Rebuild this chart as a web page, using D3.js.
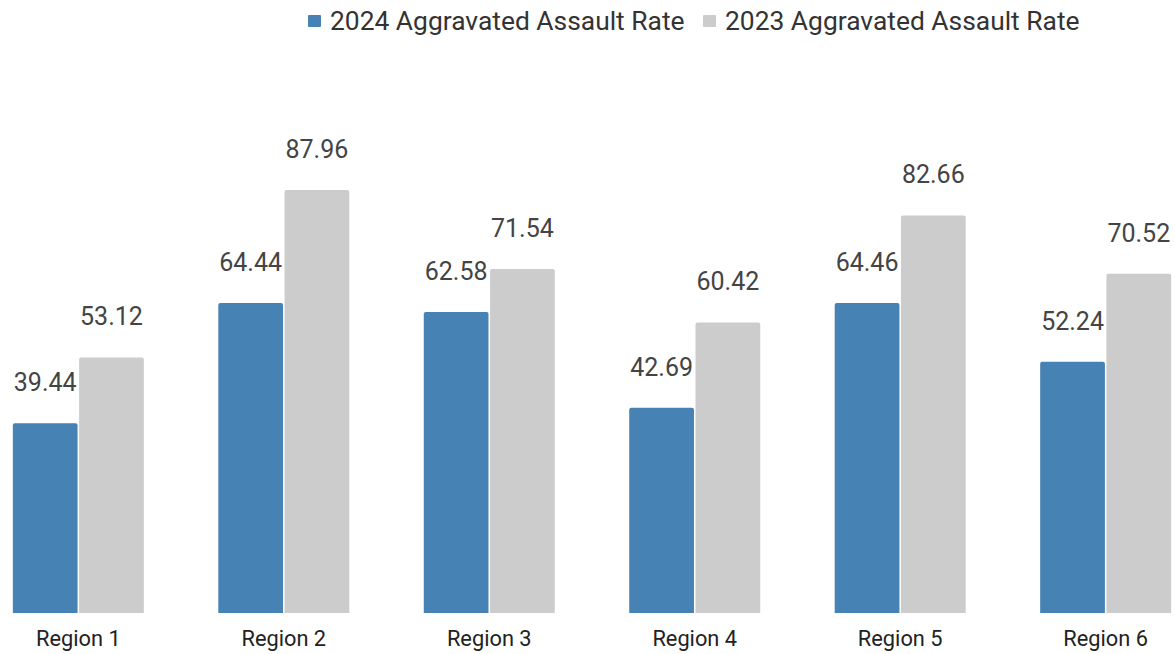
<!DOCTYPE html>
<html lang="en">
  <head>
    <meta charset="UTF-8" />
    <title>Aggravated Assault Rate by Region</title>
    <script src="https://d3js.org/d3.v7.min.js"></script>
    <style>
      body {
        margin: 0;
        background: #fff;
        overflow: hidden;
        font-family: Roboto, sans-serif;
      }
      .value-label {
        font-size: 25px;
        fill: #444;
      }
      .axis-label {
        font-size: 21.8px;
        fill: #222;
      }
      .legend-text {
        font-size: 26.4px;
        fill: #333;
      }
    </style>
  </head>
  <body>
    <svg width="1175" height="654"></svg>

    <script>
      const regions = ['Region 1', 'Region 2', 'Region 3', 'Region 4', 'Region 5', 'Region 6'];
      const seriesNames = ['2024 Aggravated Assault Rate', '2023 Aggravated Assault Rate'];
      const rate2024 = [39.44, 64.44, 62.58, 42.69, 64.46, 52.24];
      const rate2023 = [53.12, 87.96, 71.54, 60.42, 82.66, 70.52];
      const colors = ['#4682b4', '#cccccc'];

      const width = 1175,
        height = 654;
      const baseline = 613;

      const svg = d3.select('svg');

      // the plot runs a bit past the right edge of the window, like the original
      const x0 = d3.scaleBand().domain(regions).range([-24.4, 1208.4]);
      const x1 = d3
        .scaleBand()
        .domain(seriesNames)
        .range([x0.bandwidth() / 2 - 65.5, x0.bandwidth() / 2 + 65.5])
        .paddingInner(0.023);

      const y = d3.scaleLinear().domain([0, 100]).range([baseline, baseline - 481]);

      const rows = regions.map((r, i) => ({
        region: r,
        values: [rate2024[i], rate2023[i]],
      }));

      // bar with slightly rounded top corners
      function barPath(x, yTop, w, h, r) {
        return `M${x},${yTop + h}V${yTop + r}Q${x},${yTop} ${x + r},${yTop}H${x + w - r}Q${x + w},${yTop} ${x + w},${yTop + r}V${yTop + h}Z`;
      }

      const groups = svg
        .selectAll('g.group')
        .data(rows)
        .join('g')
        .attr('class', 'group')
        .attr('transform', (d) => `translate(${x0(d.region)},0)`);

      groups
        .selectAll('path')
        .data((d) => d.values.map((v, j) => ({ key: seriesNames[j], value: v, idx: j })))
        .join('path')
        .attr('d', (d) =>
          barPath(x1(d.key), y(d.value), x1.bandwidth(), baseline - y(d.value), 2),
        )
        .attr('fill', (d) => colors[d.idx]);

      groups
        .selectAll('text.value-label')
        .data((d) => d.values.map((v, j) => ({ key: seriesNames[j], value: v })))
        .join('text')
        .attr('class', 'value-label')
        .attr('text-anchor', 'middle')
        .attr('x', (d) => x1(d.key) + x1.bandwidth() / 2)
        .attr('y', (d) => y(d.value) - 32)
        .text((d) => d.value.toFixed(2));

      // category labels
      svg
        .selectAll('text.axis-label')
        .data(regions)
        .join('text')
        .attr('class', 'axis-label')
        .attr('text-anchor', 'middle')
        .attr('x', (d) => x0(d) + x0.bandwidth() / 2)
        .attr('y', 646)
        .text((d) => d);

      // legend
      const legendX = [308, 703];
      const legend = svg
        .selectAll('g.legend')
        .data(seriesNames)
        .join('g')
        .attr('class', 'legend')
        .attr('transform', (d, i) => `translate(${legendX[i]},15)`);

      legend
        .append('rect')
        .attr('width', 13)
        .attr('height', 12)
        .attr('rx', 1)
        .attr('fill', (d, i) => colors[i]);

      legend
        .append('text')
        .attr('class', 'legend-text')
        .attr('x', 22)
        .attr('y', 15)
        .text((d) => d);
    </script>
  </body>
</html>
